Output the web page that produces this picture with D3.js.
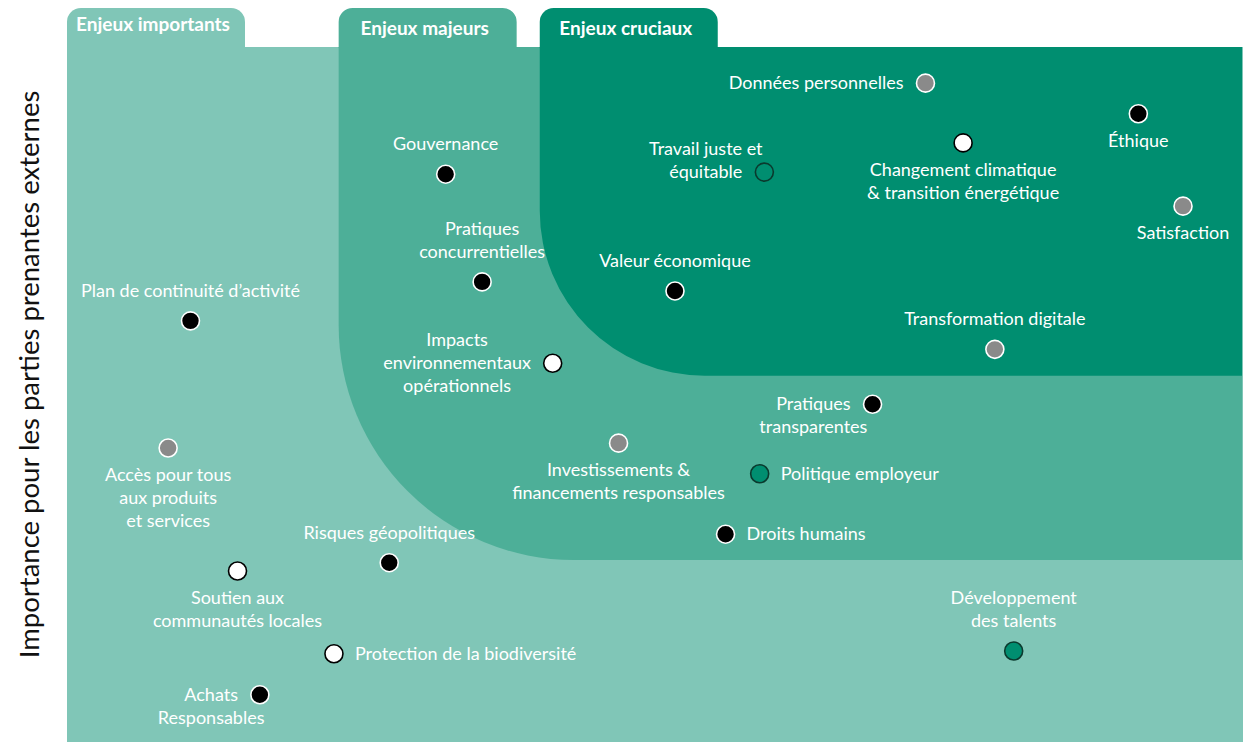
<!DOCTYPE html>
<html>
<head>
<meta charset="utf-8">
<script src="https://cdn.jsdelivr.net/npm/d3@7"></script>
<style>
  body { margin: 0; background: #fff; }
  text { font-family: Lato, "Open Sans", sans-serif; }
</style>
</head>
<body>
<script>
// enjeux (matrice de matérialité)
const names = [
  "Données personnelles", "Éthique", "Changement climatique\n& transition énergétique",
  "Satisfaction", "Transformation digitale", "Valeur économique",
  "Travail juste et\néquitable", "Gouvernance", "Pratiques\nconcurrentielles",
  "Plan de continuité d’activité", "Impacts\nenvironnementaux\nopérationnels",
  "Accès pour tous\naux produits\net services", "Pratiques\ntransparentes",
  "Investissements &\nfinancements responsables", "Politique employeur",
  "Droits humains", "Risques géopolitiques", "Soutien aux\ncommunautés locales",
  "Protection de la biodiversité", "Achats\nResponsables", "Développement\ndes talents"
];
// importance pour BNP (x) et pour les parties prenantes externes (y), 0-10
const xValues = [7.30, 9.11, 7.62, 9.49, 7.89, 5.17, 5.93, 3.22, 3.53, 1.05, 4.13,
                 0.86, 6.85, 4.69, 5.89, 5.60, 2.74, 1.45, 2.27, 1.64, 8.05];
const yValues = [9.48, 9.04, 8.62, 7.71, 5.65, 6.49, 8.20, 8.17, 6.62, 6.06, 5.45,
                 4.23, 4.86, 4.30, 3.86, 2.99, 2.58, 2.46, 1.27, 0.68, 1.31];
const kinds = ["gris", "noir", "blanc", "gris", "gris", "noir", "vert", "noir", "noir",
               "noir", "blanc", "gris", "noir", "gris", "vert", "noir", "noir", "blanc",
               "blanc", "noir", "vert"];
const labelAt = ["left-0", "below", "below", "below", "above", "above", "left-1", "above",
                 "above", "above", "left-1", "below", "left-0", "below", "right", "right",
                 "above", "below", "right", "left-0", "above"];

// zones
const zoneNames = ["Enjeux importants", "Enjeux majeurs", "Enjeux cruciaux"];
const zoneX0 = [0, 2.31, 4.02];
const zoneY0 = [0, 2.62, 5.27];

const W = 1243, H = 742;
const zoneColors = ["#80c6b7", "#4daf98", "#008e70"];
const zoneRadius = [0, 235, 165];
const dotFill = { noir: "#000", gris: "#8a8a8a", blanc: "#fff", vert: "#008e70" };
const dotStroke = { noir: "#fff", gris: "#fff", blanc: "#000", vert: "#0a3a2e" };

const x = d3.scaleLinear().domain([0, 10]).range([67, 1243]);
const y = d3.scaleLinear().domain([0, 10]).range([742, 47]);

const svg = d3.select("body").append("svg")
  .attr("width", W).attr("height", H);

// zone backgrounds + tabs
zoneNames.forEach((z, i) => {
  const x0 = x(zoneX0[i]), y1 = y(zoneY0[i]), top = y(10), r = zoneRadius[i];
  const right = i == 0 ? W : W - 1;
  let p = d3.path();
  p.moveTo(x0, top);
  p.lineTo(right, top);
  p.lineTo(right, y1);
  if (r > 0) {
    p.lineTo(x0 + r, y1);
    p.arcTo(x0, y1, x0, y1 - r, r);
  } else {
    p.lineTo(x0, y1);
  }
  p.closePath();
  svg.append("path").attr("d", p.toString()).attr("fill", zoneColors[i]);

  // onglet
  const tw = 178, tt = 8, tr = 14;
  let t = d3.path();
  t.moveTo(x0, top + 1);
  t.lineTo(x0, tt + tr);
  t.arcTo(x0, tt, x0 + tr, tt, tr);
  t.lineTo(x0 + tw - tr, tt);
  t.arcTo(x0 + tw, tt, x0 + tw, tt + tr, tr);
  t.lineTo(x0 + tw, top + 1);
  t.closePath();
  svg.append("path").attr("d", t.toString()).attr("fill", zoneColors[i]);

  svg.append("text")
    .attr("x", x0 + tw / 2 - 3)
    .attr("y", i == 0 ? 31 : 35)
    .attr("text-anchor", "middle")
    .attr("fill", "#fff")
    .attr("font-weight", "bold")
    .attr("font-size", 19)
    .text(z);
});

// axe y
svg.append("text")
  .attr("transform", "translate(39," + ((y(0) + y(10)) / 2 - 20) + ") rotate(-90)")
  .attr("text-anchor", "middle")
  .attr("font-size", 27.5)
  .attr("fill", "#111")
  .text("Importance pour les parties prenantes externes");

const data = names.map((n, i) => ({
  name: n, lines: n.split("\n"), cx: x(xValues[i]), cy: y(yValues[i]),
  kind: kinds[i], at: labelAt[i]
}));

const lh = 23;
const labels = svg.append("g").attr("fill", "#fff").attr("font-size", 18);

data.forEach(d => {
  const g = labels.append("text");
  const tspans = d.lines.map(l => g.append("tspan").text(l));
  let anchor = "middle", tx = d.cx, firstY;
  const n = d.lines.length;
  if (d.at == "above") {
    firstY = d.cy - 24 - (n - 1) * lh;
  } else if (d.at == "below") {
    firstY = d.cy + 33;
  } else if (d.at == "right") {
    anchor = "start";
    tx = d.cx + 21;
    firstY = d.cy + 6;
  } else {
    const k = +d.at.split("-")[1];
    const wk = tspans[k].node().getComputedTextLength();
    tx = d.cx - 22 - wk / 2;
    firstY = d.cy + 6 - k * lh;
  }
  g.attr("text-anchor", anchor);
  tspans.forEach((t, j) => t.attr("x", tx).attr("y", firstY + j * lh));
});

svg.append("g").selectAll("circle")
  .data(data)
  .enter()
  .append("circle")
  .attr("cx", d => d.cx)
  .attr("cy", d => d.cy)
  .attr("r", 9)
  .attr("fill", d => dotFill[d.kind])
  .attr("stroke", d => dotStroke[d.kind])
  .attr("stroke-width", 1.6);
</script>
</body>
</html>
